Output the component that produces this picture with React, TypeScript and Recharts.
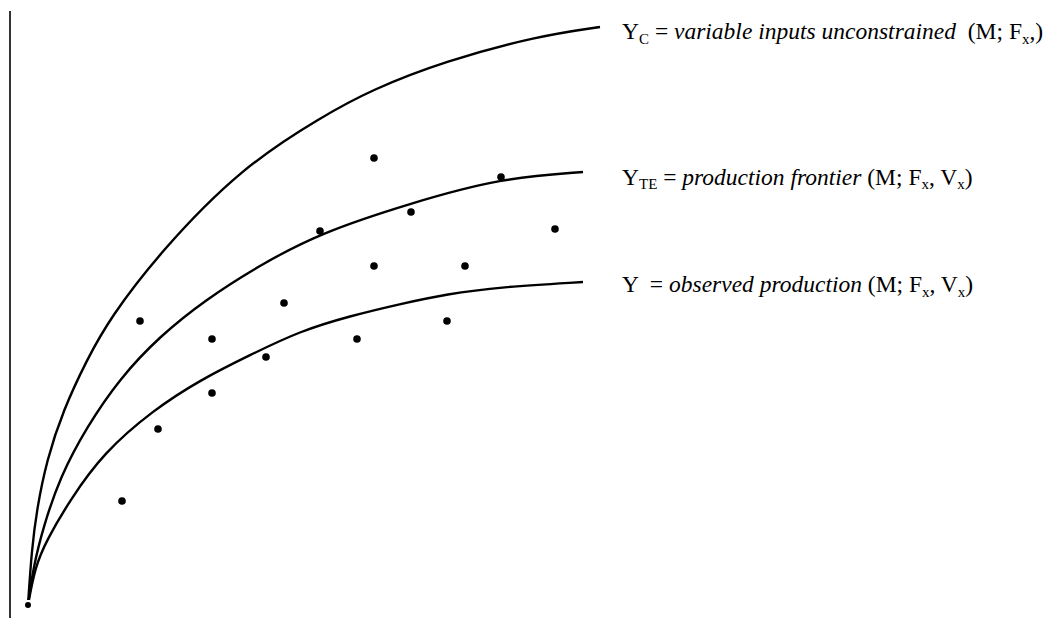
import {
  ComposedChart,
  Line,
  ReferenceLine,
  Scatter,
  XAxis,
  YAxis,
} from "recharts";

// Input level (x) vs output (y), measured from the origin of the diagram.
const ceilingCurve = [
  { x: 0, y: 0 },
  { x: 3.7, y: 55 },
  { x: 8.7, y: 95 },
  { x: 18.7, y: 145 },
  { x: 35.3, y: 195 },
  { x: 58.7, y: 245 },
  { x: 82, y: 287 },
  { x: 132, y: 353 },
  { x: 214, y: 438 },
  { x: 295, y: 489 },
  { x: 343, y: 515 },
  { x: 417, y: 544 },
  { x: 510, y: 569 },
  { x: 572, y: 578 },
];

const frontierCurve = [
  { x: 0, y: 0 },
  { x: 5.3, y: 38 },
  { x: 15.3, y: 78 },
  { x: 32, y: 128 },
  { x: 58.7, y: 178 },
  { x: 92, y: 227 },
  { x: 132, y: 269 },
  { x: 177, y: 305 },
  { x: 232, y: 340 },
  { x: 292, y: 372 },
  { x: 383, y: 402 },
  { x: 473, y: 427 },
  { x: 555, y: 433 },
];

const observedCurve = [
  { x: 0, y: 0 },
  { x: 7, y: 38 },
  { x: 18.7, y: 65 },
  { x: 42, y: 105 },
  { x: 75.3, y: 152 },
  { x: 125.3, y: 195 },
  { x: 172, y: 225 },
  { x: 222, y: 250 },
  { x: 272, y: 274 },
  { x: 322, y: 289 },
  { x: 372, y: 301 },
  { x: 419, y: 311 },
  { x: 472, y: 318 },
  { x: 555, y: 323 },
];

const farms = [
  { x: 112, y: 284 },
  { x: 346, y: 447 },
  { x: 473, y: 428 },
  { x: 383, y: 393 },
  { x: 292, y: 374 },
  { x: 527, y: 376 },
  { x: 346, y: 339 },
  { x: 437, y: 339 },
  { x: 256, y: 302 },
  { x: 184, y: 266 },
  { x: 329, y: 266 },
  { x: 419, y: 284 },
  { x: 238, y: 248 },
  { x: 184, y: 212 },
  { x: 130, y: 176 },
  { x: 94, y: 104 },
];

const SERIF = "'Liberation Serif', 'Times New Roman', serif";
const FONT = 23.5;
const SUB = 15;
const DROP = 4.5;

function labelContent(kind: string) {
  if (kind === "c") {
    return (
      <>
        <tspan>Y</tspan>
        <tspan fontSize={SUB} dy={DROP}>C</tspan>
        <tspan dy={-DROP}> = </tspan>
        <tspan fontStyle="italic">variable inputs unconstrained</tspan>
        <tspan>{"  (M; F"}</tspan>
        <tspan fontSize={SUB} dy={DROP}>x</tspan>
        <tspan dy={-DROP}>,)</tspan>
      </>
    );
  }
  if (kind === "te") {
    return (
      <>
        <tspan>Y</tspan>
        <tspan fontSize={SUB} dy={DROP}>TE</tspan>
        <tspan dy={-DROP}> = </tspan>
        <tspan fontStyle="italic">production frontier</tspan>
        <tspan>{" (M; F"}</tspan>
        <tspan fontSize={SUB} dy={DROP}>x</tspan>
        <tspan dy={-DROP}>, V</tspan>
        <tspan fontSize={SUB} dy={DROP}>x</tspan>
        <tspan dy={-DROP}>)</tspan>
      </>
    );
  }
  return (
    <>
      <tspan>{"Y  = "}</tspan>
      <tspan fontStyle="italic">observed production</tspan>
      <tspan>{" (M; F"}</tspan>
      <tspan fontSize={SUB} dy={DROP}>x</tspan>
      <tspan dy={-DROP}>, V</tspan>
      <tspan fontSize={SUB} dy={DROP}>x</tspan>
      <tspan dy={-DROP}>)</tspan>
    </>
  );
}

// only the last point of each curve gets its text
function endLabel(last: number, dx: number, dy: number, kind: string) {
  return (props: any) => {
    if (props.index !== last) return <g key={props.index} />;
    return (
      <text
        key={props.index}
        x={props.x + dx}
        y={props.y + dy}
        fontFamily={SERIF}
        fontSize={FONT}
        fill="#000"
        style={{ whiteSpace: "pre" }}
      >
        {labelContent(kind)}
      </text>
    );
  };
}

export default function App() {
  return (
    <div style={{ position: "absolute", left: 0, top: 0, background: "#fff" }}>
      <ComposedChart
        width={1059}
        height={618}
        margin={{ top: 0, right: 0, bottom: 0, left: 0 }}
      >
        <XAxis type="number" dataKey="x" domain={[-28, 1031]} hide allowDataOverflow />
        <YAxis type="number" dataKey="y" domain={[-13, 605]} hide allowDataOverflow />
        <ReferenceLine
          segment={[
            { x: -18, y: -13 },
            { x: -18, y: 594 },
          ]}
          stroke="#333"
          strokeWidth={2}
          ifOverflow="visible"
        />
        <Line
          data={ceilingCurve}
          dataKey="y"
          type="basis"
          stroke="#000"
          strokeWidth={2.4}
          dot={false}
          isAnimationActive={false}
          label={endLabel(ceilingCurve.length - 1, 22, 12, "c")}
        />
        <Line
          data={frontierCurve}
          dataKey="y"
          type="basis"
          stroke="#000"
          strokeWidth={2.4}
          dot={false}
          isAnimationActive={false}
          label={endLabel(frontierCurve.length - 1, 39, 12.7, "te")}
        />
        <Line
          data={observedCurve}
          dataKey="y"
          type="basis"
          stroke="#000"
          strokeWidth={2.4}
          dot={false}
          isAnimationActive={false}
          label={endLabel(observedCurve.length - 1, 39, 10, "y")}
        />
        <Scatter
          data={farms}
          dataKey="y"
          fill="#000"
          isAnimationActive={false}
          shape={(p: any) => <circle cx={p.cx} cy={p.cy} r={3.8} fill="#000" />}
        />
      </ComposedChart>
    </div>
  );
}
